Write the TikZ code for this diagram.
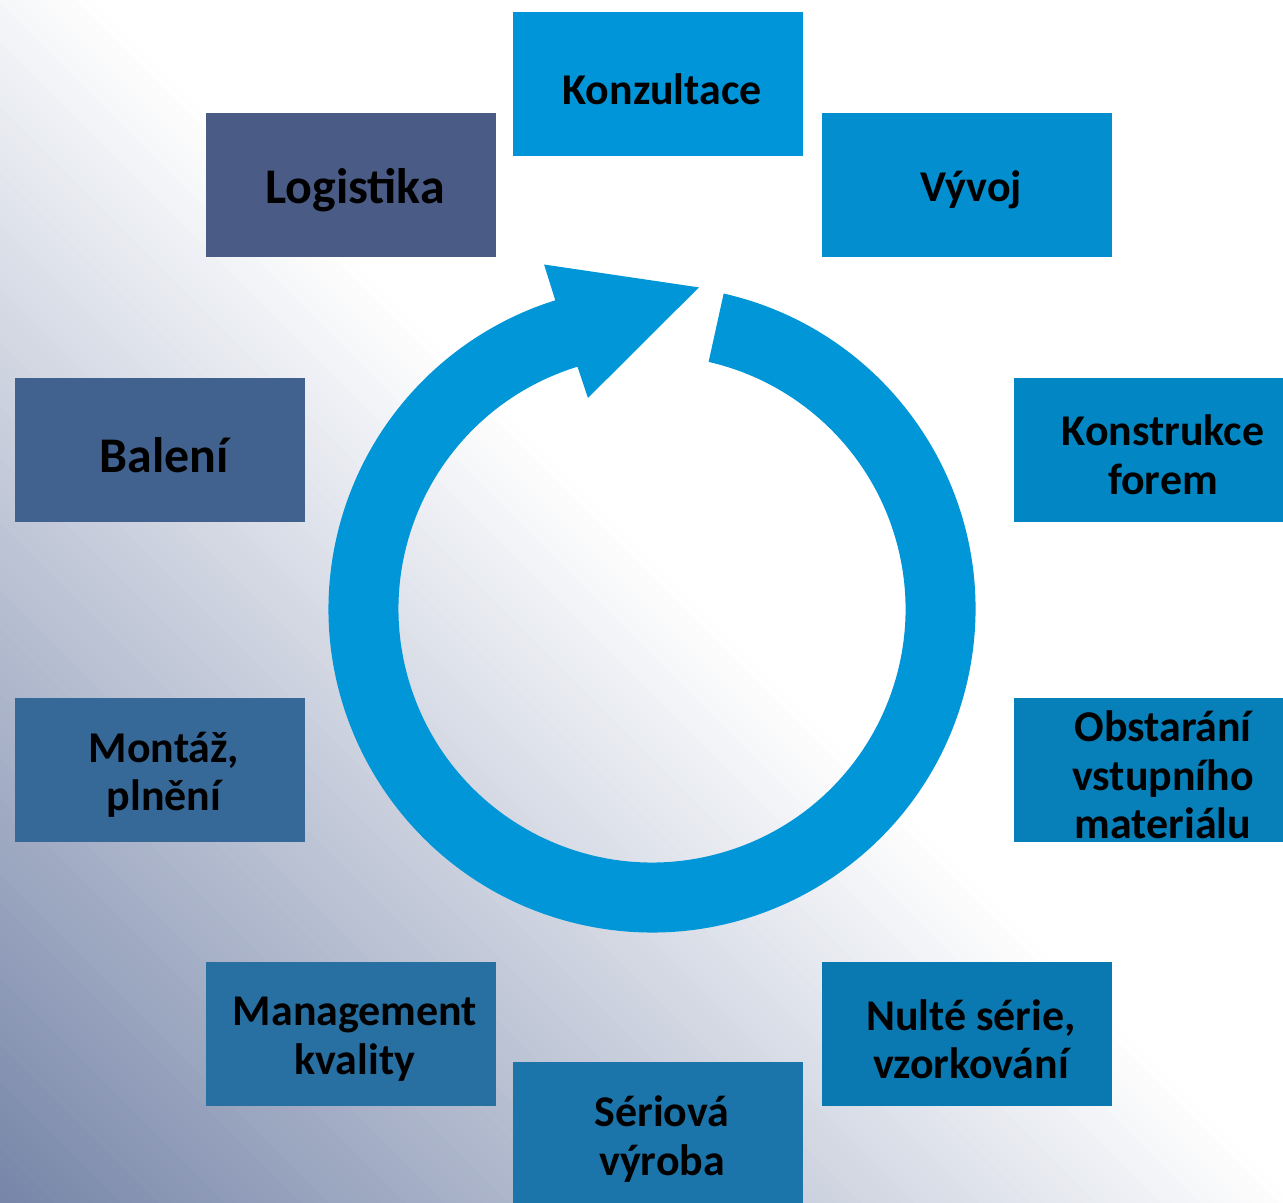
\documentclass[tikz,border=0pt]{standalone}
\usepackage{fontspec}
\setmainfont{Carlito}
\usetikzlibrary{calc}

\definecolor{bgdark}{RGB}{118,133,168}
\definecolor{ringblue}{RGB}{0,150,216}
\definecolor{konzcol}{RGB}{0,149,216}
\definecolor{vyvojcol}{RGB}{2,142,207}
\definecolor{konstrcol}{RGB}{2,135,196}
\definecolor{obstcol}{RGB}{7,128,186}
\definecolor{nultecol}{RGB}{11,121,177}
\definecolor{seriecol}{RGB}{28,117,170}
\definecolor{mgmtcol}{RGB}{40,112,162}
\definecolor{montcol}{RGB}{54,104,152}
\definecolor{balcol}{RGB}{65,97,142}
\definecolor{logcol}{RGB}{74,91,134}

\tikzset{
  procbox/.style={rectangle, minimum width=2.9cm, minimum height=1.44cm, inner sep=0pt},
  boxtext/.style={align=center, text=black, inner sep=0pt, xshift=0.04cm, yshift=-0.05cm,
    font=\bfseries\fontsize{12.5}{13.8}\selectfont},
  bigtext/.style={boxtext, font=\bfseries\fontsize{14.2}{15.5}\selectfont}
}

\begin{document}
\begin{tikzpicture}
  \useasboundingbox (0,0) rectangle (12.83,12.02);
  \clip (0,0) rectangle (12.83,12.02);
  \fill[white] (0,0) rectangle (12.83,12.02);
  % background shading, bottom left corner
  \foreach \i in {0,...,99}{
    \pgfmathsetmacro{\a}{13.02*(1-\i/100)+0.01}
    \pgfmathsetmacro{\b}{13.02*(1-(\i+1)/100)-0.01}
    \fill[bgdark!\i!white] (\a+1,-1) -- (-1,\a+1) -- (-1,\b+1) -- (\b+1,-1) -- cycle;
  }
  % circular arrow
  \coordinate (c) at (6.52,5.93);
  \fill[ringblue] ($(c)+(77.2:3.235)$) arc[start angle=77.2, end angle=-252.6, radius=3.235]
    -- ($(c)+(107.4:3.61)$) -- ($(c)+(81.7:3.25)$) -- ($(c)+(106.9:2.205)$)
    -- ($(c)+(107.1:2.535)$) arc[start angle=107.1, end angle=437.1, radius=2.535] -- cycle;
  % stages
  \node[procbox, fill=konzcol, label={[boxtext]center:Konzultace}] (konz) at (6.58,11.18) {};
  \node[procbox, fill=vyvojcol, label={[boxtext]center:Vývoj}] (vyvoj) at (9.67,10.17) {};
  \node[procbox, fill=konstrcol, label={[boxtext]center:{Konstrukce\\forem}}] (konstr) at (11.59,7.52) {};
  \node[procbox, fill=obstcol, label={[boxtext]center:{Obstarání\\vstupního\\materiálu}}] (obst) at (11.59,4.32) {};
  \node[procbox, fill=nultecol, label={[boxtext]center:{Nulté série,\\vzorkování}}] (nulte) at (9.67,1.68) {};
  \node[procbox, fill=seriecol, label={[boxtext]center:{Sériová\\výroba}}] (serie) at (6.58,0.68) {};
  \node[procbox, fill=mgmtcol, label={[boxtext]center:{Management\\kvality}}] (mgmt) at (3.51,1.68) {};
  \node[procbox, fill=montcol, label={[boxtext]center:{Montáž,\\plnění}}] (mont) at (1.60,4.32) {};
  \node[procbox, fill=balcol, label={[bigtext]center:Balení}] (bal) at (1.60,7.52) {};
  \node[procbox, fill=logcol, label={[bigtext]center:Logistika}] (log) at (3.51,10.17) {};
\end{tikzpicture}
\end{document}
